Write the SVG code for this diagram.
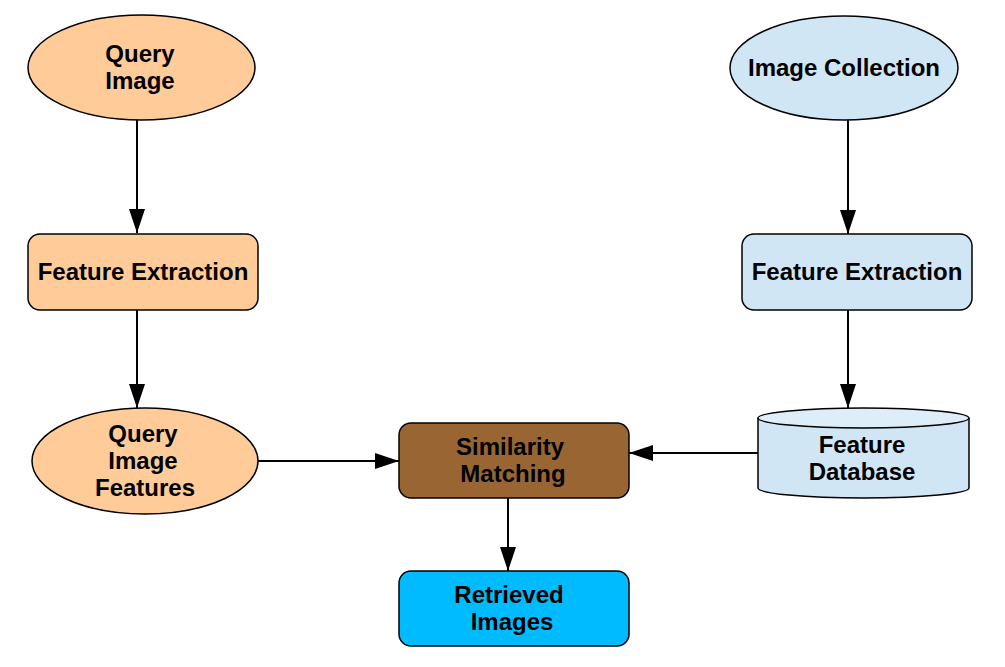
<svg xmlns="http://www.w3.org/2000/svg" width="1005" height="667" viewBox="0 0 1005 667">
<defs>
<style>
.s{stroke:#000;stroke-width:1.5}
.t{font-family:"Liberation Sans",Arial,sans-serif;font-weight:bold;font-size:24px;fill:#000;text-anchor:middle}
.peach{fill:#FFCC99}
.lb{fill:#D0E6F4}
</style>
<marker id="a" viewBox="0 0 24 16" refX="24" refY="8" markerWidth="24" markerHeight="16" markerUnits="userSpaceOnUse" orient="auto">
<path d="M0,0 L24,8 L0,16 z" fill="#000"/>
</marker>
</defs>
<rect width="1005" height="667" fill="#fff"/>
<g id="connectors" stroke="#000" stroke-width="2" fill="none">
<line x1="137" y1="120" x2="137" y2="233" marker-end="url(#a)"/>
<line x1="137" y1="310" x2="137" y2="408" marker-end="url(#a)"/>
<line x1="848" y1="120" x2="848" y2="234" marker-end="url(#a)"/>
<line x1="848" y1="310" x2="848" y2="408" marker-end="url(#a)"/>
<line x1="258" y1="461" x2="399" y2="461" marker-end="url(#a)"/>
<line x1="758" y1="453" x2="629" y2="453" marker-end="url(#a)"/>
<line x1="508" y1="498" x2="508" y2="571" marker-end="url(#a)"/>
</g>
<g id="query-image">
<ellipse cx="141.5" cy="67.5" rx="113.5" ry="52.5" class="peach s"/>
<text class="t" x="140" y="62">Query</text>
<text class="t" x="140" y="89">Image</text>
</g>
<g id="feature-extraction-left">
<rect x="28" y="234" width="230" height="76" rx="12" class="peach s"/>
<text class="t" x="143" y="280">Feature Extraction</text>
</g>
<g id="query-image-features">
<ellipse cx="145" cy="461" rx="113" ry="53" class="peach s"/>
<text class="t" x="143" y="442">Query</text>
<text class="t" x="143" y="469">Image</text>
<text class="t" x="145" y="496">Features</text>
</g>
<g id="image-collection">
<ellipse cx="844" cy="68" rx="114" ry="52" class="lb s"/>
<text class="t" x="844" y="76">Image Collection</text>
</g>
<g id="feature-extraction-right">
<rect x="742" y="234" width="230" height="76" rx="12" class="lb s"/>
<text class="t" x="857" y="280">Feature Extraction</text>
</g>
<g id="feature-database">
<path d="M758,418 L758,488 A105.5,10 0 0 0 969,488 L969,418" class="lb s"/>
<ellipse cx="863.5" cy="418" rx="105.5" ry="10" fill="#DEEEF8" class="s"/>
<text class="t" x="862" y="453">Feature</text>
<text class="t" x="862" y="480">Database</text>
</g>
<g id="similarity-matching">
<rect x="399" y="423" width="230" height="75" rx="12" fill="#996633" class="s"/>
<text class="t" x="510" y="455">Similarity</text>
<text class="t" x="513" y="482">Matching</text>
</g>
<g id="retrieved-images">
<rect x="399" y="571" width="230" height="75" rx="12" fill="#00BBFF" class="s"/>
<text class="t" x="509" y="603">Retrieved</text>
<text class="t" x="512" y="630">Images</text>
</g>
</svg>
